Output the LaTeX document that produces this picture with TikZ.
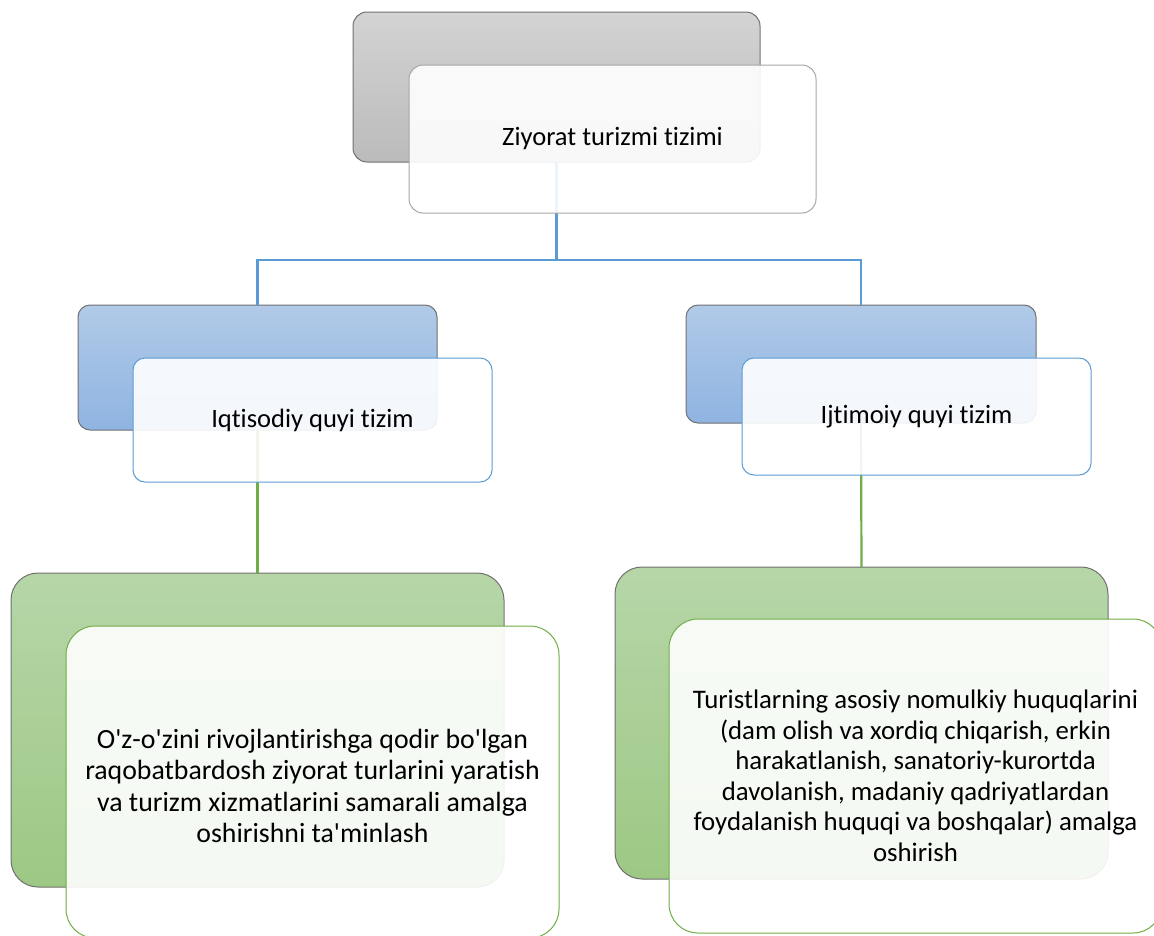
\documentclass[tikz,border=0pt]{standalone}
\usepackage{fontspec}
\setmainfont{Carlito}[Ligatures={TeXOff,CommonOff}]
\definecolor{grayT}{HTML}{D3D3D3}
\definecolor{grayB}{HTML}{BBBBBB}
\definecolor{blueT}{HTML}{B1CAE8}
\definecolor{blueB}{HTML}{8FB4E1}
\definecolor{greenT}{HTML}{B6D6A8}
\definecolor{greenB}{HTML}{9DC884}
\definecolor{backline}{HTML}{707070}
\definecolor{frontgray}{HTML}{A6A6A6}
\definecolor{frontblue}{HTML}{5B9BD5}
\definecolor{frontgreen}{HTML}{70AD47}
\begin{document}
\begin{tikzpicture}[x=1pt,y=-1pt,
  boxbase/.style={anchor=north west, inner sep=0pt, outer sep=0pt, line width=1pt},
  backbox/.style={boxbase, draw=backline},
  grayback/.style={backbox, top color=grayT, bottom color=grayB, rounded corners=14pt},
  blueback/.style={backbox, top color=blueT, bottom color=blueB, rounded corners=12pt},
  greenback/.style={backbox, top color=greenT, bottom color=greenB, rounded corners=27pt},
  frontbox/.style={boxbase, fill=white, fill opacity=0.9, text opacity=1, align=center},
  graytop/.style={frontbox, draw=frontgray, rounded corners=14pt},
  bluefront/.style={frontbox, draw=frontblue, rounded corners=12pt},
  greenfront/.style={frontbox, draw=frontgreen, rounded corners=29pt},
  label/.style={align=center, font=\fontsize{26.5}{30.5}\selectfont},
  blueconn/.style={draw=frontblue, line width=2.2pt},
  greenconn/.style={draw=frontgreen, line width=2.2pt}
]
\useasboundingbox (0,0) rectangle (1154,935);

% back boxes
\node[grayback, minimum width=407pt, minimum height=150pt] (tb) at (353,12) {};
\node[blueback, minimum width=359pt, minimum height=125pt] (lb) at (78,305) {};
\node[blueback, minimum width=350pt, minimum height=118pt] (rb) at (686,305) {};
\node[greenback, minimum width=493pt, minimum height=314pt] (blb) at (11,573) {};
\node[greenback, minimum width=493pt, minimum height=312pt] (brb) at (615,567) {};

% connectors
\coordinate (j) at (tb.south |- 0,260);
\draw[blueconn] (tb.south) -- (j) -| (lb.north);
\draw[blueconn] (j) -| (rb.north);
\draw[greenconn] (lb.south) -- (blb.north);
\draw[greenconn] (rb.south) -- (brb.north);

% front boxes
\node[graytop, minimum width=407pt, minimum height=148pt] (tf) at (409,65) {};
\node[label] at (tf.center) (tt) {Ziyorat turizmi tizimi};
\node[bluefront, minimum width=359pt, minimum height=124pt] (lf) at (133,358) {};
\node[label] at (lf.center) (lt) {Iqtisodiy quyi tizim};
\node[bluefront, minimum width=349pt, minimum height=117pt] (rf) at (742,358) {};
\node[label] at (rf.center) (rt) {Ijtimoiy quyi tizim};
\node[greenfront, minimum width=493pt, minimum height=312pt] (blf) at (66,626) {};
\node[label, font=\fontsize{27.8}{31.3}\selectfont] at ([yshift=-4pt]blf.center) (blt)
  {O'z-o'zini rivojlantirishga qodir bo'lgan\\raqobatbardosh ziyorat turlarini yaratish\\va turizm xizmatlarini samarali amalga\\oshirishni ta'minlash};
\node[greenfront, minimum width=493pt, minimum height=314pt] (brf) at (669,619) {};
\node[label, font=\fontsize{26.8}{30.5}\selectfont] at (brf.center) (brt)
  {Turistlarning asosiy nomulkiy huquqlarini\\(dam olish va xordiq chiqarish, erkin\\harakatlanish, sanatoriy-kurortda\\davolanish, madaniy qadriyatlardan\\foydalanish huquqi va boshqalar) amalga\\oshirish};
\end{tikzpicture}
\end{document}
